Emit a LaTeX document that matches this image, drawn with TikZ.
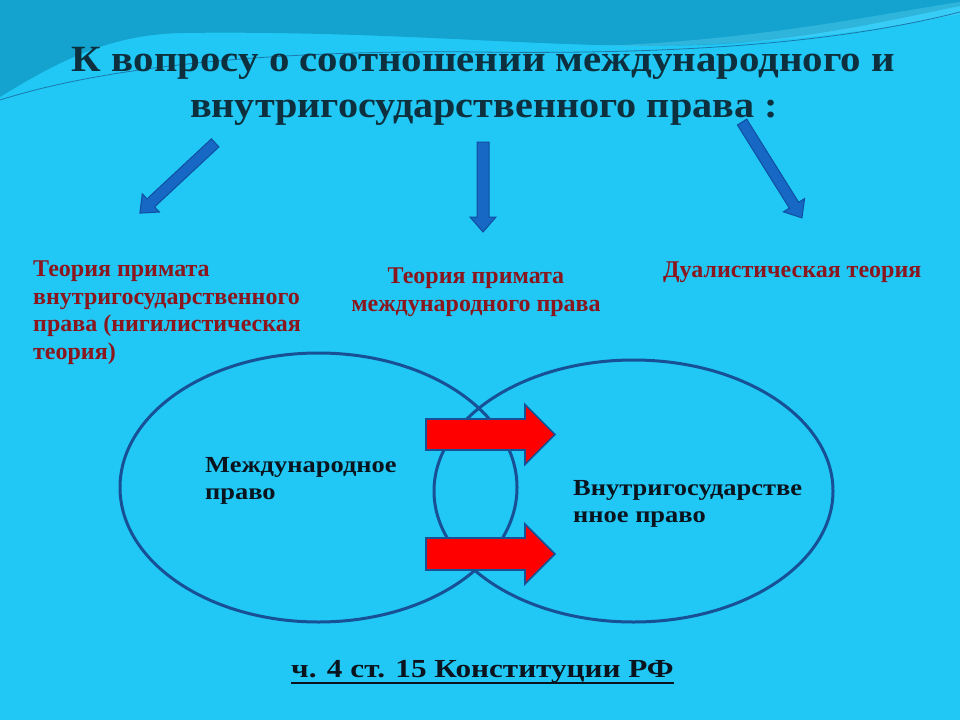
\documentclass[tikz,border=0pt]{standalone}
\usepackage{fontspec}
\setmainfont{Liberation Serif}
\newfontfamily\widefont[FakeStretch=1.15]{Liberation Serif}
\newfontfamily\widerfont[FakeStretch=1.2]{Liberation Serif}
\usepackage{graphicx}
\usepackage{tikz}
\usetikzlibrary{shapes.geometric}

\definecolor{seacol}{RGB}{33,200,245}
\definecolor{deepcol}{RGB}{20,163,206}
\definecolor{wavecol}{RGB}{26,120,170}
\definecolor{titlecol}{RGB}{14,48,62}
\definecolor{theorycol}{RGB}{138,22,30}
\definecolor{inkcol}{RGB}{10,20,30}
\definecolor{ringcol}{RGB}{24,80,150}
\definecolor{pointercol}{RGB}{22,104,196}
\definecolor{pointeredge}{RGB}{16,78,160}

% block arrow: style, centre, angle, length, shaft, head width, head length
\newcommand{\blockarrow}[7]{%
  \begin{scope}[shift={#2}, rotate=#3]
    \draw[#1] ({-#4/2},{-#5/2}) -- ({#4/2-#7},{-#5/2}) -- ({#4/2-#7},{-#6/2})
      -- ({#4/2},0) -- ({#4/2-#7},{#6/2}) -- ({#4/2-#7},{#5/2})
      -- ({-#4/2},{#5/2}) -- cycle;
  \end{scope}}

\begin{document}
\begin{tikzpicture}[
    x=1pt, y=-1pt,
    title/.style={font=\fontsize{37}{45}\selectfont\bfseries, text=titlecol,
      inner sep=0pt},
    theory/.style={font=\fontsize{24}{27.5}\selectfont\bfseries, text=theorycol,
      align=left, inner sep=0pt},
    lawtext/.style={font=\widefont\fontsize{23}{27}\selectfont\bfseries,
      text=inkcol, align=left, inner sep=0pt},
    sphere/.style={draw=ringcol, line width=3pt, ellipse, inner sep=0pt},
    pointer/.style={fill=pointercol, draw=pointeredge, line width=1pt},
    push/.style={fill=red, draw=ringcol, line width=1.6pt},
  ]
    \useasboundingbox (0,0) rectangle (960,720);

    % --- background ---
    \fill[seacol] (0,0) rectangle (960,720);
    \fill[deepcol] (0,0) -- (960,0) -- (960,6)
      .. controls (900,18) and (800,42) .. (700,45)
      .. controls (560,50) and (400,30) .. (180,33)
      .. controls (110,35) and (60,60) .. (0,97) -- cycle;
    \fill[seacol!70!white, opacity=0.35] (600,46)
      .. controls (760,40) and (880,14) .. (960,2) -- (960,14)
      .. controls (880,30) and (760,48) .. (600,46) -- cycle;
    \draw[wavecol, line width=0.8pt] (0,100)
      .. controls (120,62) and (300,50) .. (480,52)
      .. controls (700,55) and (850,40) .. (960,12);

    % --- heading ---
    \node[title, anchor=base] (head1) at (483.5,71)
      {\resizebox{823pt}{\height}{К вопросу о соотношении международного и}};
    \node[title, anchor=base] (head2) at (484,117)
      {\resizebox{588pt}{\height}{внутригосударственного права :}};

    % --- pointers to the theories ---
    \blockarrow{pointer}{(177.5,178)}{223}{103}{11}{25}{15}
    \blockarrow{pointer}{(483,187)}{-90}{90}{12}{26}{15}
    \blockarrow{pointer}{(772,170)}{-58}{113}{11}{25}{15}

    % --- theories (base = last line) ---
    \node[theory, anchor=base west] (national) at (33,359)
      {Теория примата\\внутригосударственного\\права (нигилистическая\\теория)};
    \node[theory, anchor=base, align=center] (international) at (476,311)
      {Теория примата\\международного права};
    \node[theory, anchor=base west] (dualist) at (663,277)
      {Дуалистическая теория};

    % --- the two systems of law ---
    \node[sphere, minimum width=397, minimum height=269] (intl) at (318.5,487.5) {};
    \node[sphere, minimum width=399, minimum height=262] (domestic) at (633.5,491) {};
    \node[lawtext, anchor=base west] (intl-lbl) at (205,499)
      {Международное\\право};
    \node[lawtext, anchor=base west] (domestic-lbl) at (573,522)
      {Внутригосударстве\\нное право};

    \blockarrow{push}{(490.5,434.5)}{0}{129}{31}{60}{30}
    \blockarrow{push}{(490.5,554)}{0}{129}{32}{60}{30}

    % --- reference ---
    \node[font=\widerfont\fontsize{26}{30}\selectfont\bfseries, text=inkcol,
      inner sep=0pt, anchor=base] (article) at (482.5,677)
      {ч. 4 ст. 15 Конституции РФ};
    \draw[inkcol, line width=1.8pt] ([yshift=-6pt]article.base west)
      -- ([yshift=-6pt]article.base east);
  \end{tikzpicture}
\end{document}
